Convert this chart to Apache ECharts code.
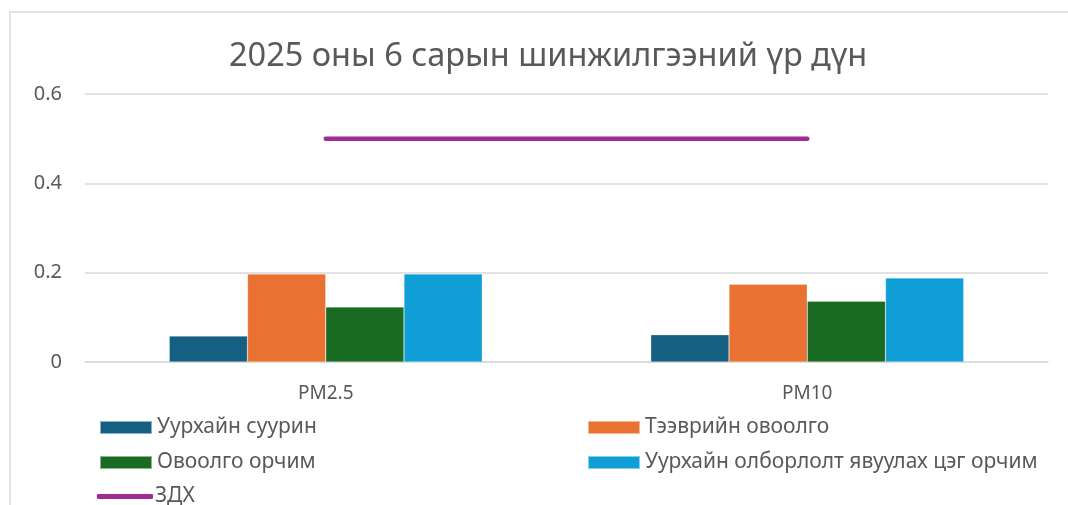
<!DOCTYPE html>
<html>
<head>
<meta charset="utf-8">
<script src="https://cdn.jsdelivr.net/npm/echarts@6/dist/echarts.min.js"></script>
<style>
  html, body { margin: 0; padding: 0; background: #fff; }
  #main { width: 1068px; height: 505px; }
</style>
</head>
<body>
<div id="main"></div>
<script>
// categories and values
const categories = ['PM2.5', 'PM10'];
const seriesNames = ['Уурхайн суурин', 'Тээврийн овоолго', 'Овоолго орчим', 'Уурхайн олборлолт явуулах цэг орчим'];
const suurin = [0.058, 0.061];
const teevriin = [0.197, 0.174];
const ovoolgo = [0.123, 0.136];
const olborlolt = [0.197, 0.188];
const zdhName = 'ЗДХ';
const zdh = [0.5, 0.5];
const yTicks = [0, 0.2, 0.4, 0.6];

const colors = ['#156082', '#E97132', '#196B24', '#0F9ED5'];
const textColor = '#595959';
const font = '"Noto Sans", "Open Sans", sans-serif';

const barValues = [suurin, teevriin, ovoolgo, olborlolt];

const chart = echarts.init(document.getElementById('main'));

// legend laid out as 2 columns, one legend per item
const legendPos = [
  { left: 99, top: 417 },
  { left: 587, top: 417 },
  { left: 99, top: 452 },
  { left: 587, top: 452 }
];
const legends = seriesNames.map((name, i) => ({
  data: [name],
  left: legendPos[i].left,
  top: legendPos[i].top,
  padding: 0,
  itemWidth: 52,
  itemHeight: 13,
  itemGap: 0,
  icon: 'rect',
  selectedMode: false,
  textStyle: { color: textColor, fontSize: 21, fontFamily: font }
}));
legends.push({
  data: [zdhName],
  left: 97,
  top: 486,
  padding: 0,
  itemWidth: 56,
  itemHeight: 5,
  icon: 'roundRect',
  selectedMode: false,
  textStyle: { color: textColor, fontSize: 21, fontFamily: font, padding: [0, 0, 0, -3] }
});

const option = {
  animation: false,
  textStyle: { fontFamily: font },
  title: {
    text: '2025 оны 6 сарын шинжилгээний үр дүн',
    left: 224,
    top: 35,
    textStyle: { color: textColor, fontSize: 32.5, fontWeight: 'normal', fontFamily: font }
  },
  graphic: [{
    type: 'rect',
    shape: { x: 10, y: 12, width: 1100, height: 600 },
    style: { fill: 'none', stroke: '#D9D9D9', lineWidth: 1.5 },
    z: -1
  }],
  legend: legends,
  grid: { left: 85, right: 20, top: 94, bottom: 143 },
  xAxis: {
    type: 'category',
    data: categories,
    axisLine: { lineStyle: { color: '#D9D9D9', width: 1.5 } },
    axisTick: { show: false },
    axisLabel: { color: textColor, fontSize: 19, margin: 22, fontFamily: font }
  },
  yAxis: {
    type: 'value',
    min: 0,
    max: 0.6,
    interval: 0.2,
    axisLine: { show: false },
    axisTick: { show: false },
    splitLine: { lineStyle: { color: '#D9D9D9', width: 1.5 } },
    axisLabel: {
      color: textColor,
      fontSize: 20,
      margin: 23,
      fontFamily: font,
      formatter: v => (yTicks.indexOf(v) >= 0 ? String(v) : '')
    }
  },
  series: seriesNames.map((name, i) => ({
    name,
    type: 'bar',
    data: barValues[i],
    barGap: '0%',
    barCategoryGap: '35%',
    itemStyle: { color: colors[i], borderColor: 'rgba(255,255,255,0.5)', borderWidth: 0.5 }
  })).concat([{
    name: zdhName,
    type: 'line',
    data: zdh,
    symbol: 'none',
    itemStyle: { color: '#A02B93' },
    lineStyle: { color: '#A02B93', width: 4.5, cap: 'round' }
  }])
};

chart.setOption(option);
</script>
</body>
</html>
